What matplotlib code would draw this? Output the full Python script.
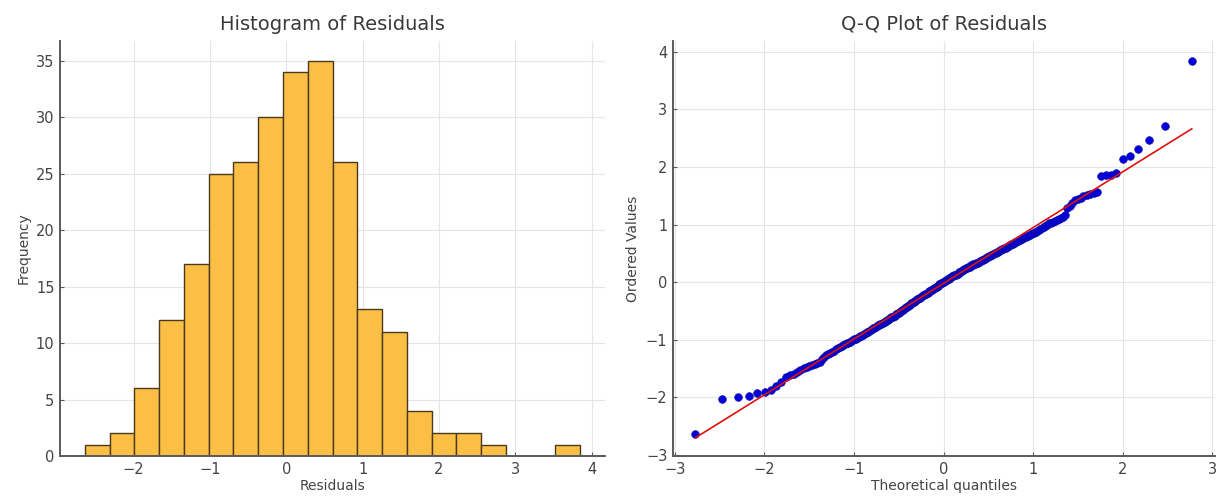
"""Histogram and Q-Q plot of model residuals (side by side)."""
from statistics import NormalDist

import matplotlib
matplotlib.use("Agg")
import matplotlib.pyplot as plt
import numpy as np

# ordered residuals (also feed the histogram)
residuals = [
    -2.64,
    -2.03, -2.00,
    -1.97, -1.92, -1.90, -1.87, -1.80, -1.74,
    -1.65, -1.62, -1.59, -1.56, -1.53, -1.50, -1.48, -1.46, -1.44, -1.43, -1.41, -1.38,
    -1.33, -1.30, -1.27, -1.25, -1.23, -1.21, -1.19, -1.17, -1.15, -1.13, -1.11, -1.10,
    -1.08, -1.06, -1.05, -1.04, -1.02,
    -1.01, -0.99, -0.98, -0.97, -0.95, -0.94, -0.93, -0.91, -0.90, -0.89, -0.87, -0.86,
    -0.84, -0.83, -0.82, -0.80, -0.79, -0.78, -0.77, -0.75, -0.74, -0.73, -0.72, -0.71, -0.70,
    -0.69, -0.68, -0.66, -0.65, -0.64, -0.63, -0.61, -0.60, -0.59, -0.58, -0.56, -0.55,
    -0.54, -0.53, -0.51, -0.50, -0.49, -0.48, -0.46, -0.45, -0.44, -0.43, -0.41, -0.40,
    -0.39, -0.37,
    -0.36, -0.35, -0.34, -0.33, -0.32, -0.31, -0.30, -0.29, -0.28, -0.27, -0.26, -0.24,
    -0.23, -0.22, -0.21, -0.20, -0.19, -0.18, -0.17, -0.16, -0.15, -0.14, -0.13, -0.12,
    -0.11, -0.10, -0.09, -0.08, -0.07, -0.05,
    -0.04, -0.03, -0.02, -0.01, 0.00, 0.01, 0.02, 0.03, 0.04, 0.05, 0.06, 0.07, 0.08,
    0.09, 0.10, 0.11, 0.12, 0.13, 0.13, 0.14, 0.15, 0.16, 0.17, 0.18, 0.19, 0.20, 0.21,
    0.22, 0.23, 0.24, 0.25, 0.26, 0.26, 0.27,
    0.29, 0.30, 0.30, 0.31, 0.32, 0.32, 0.33, 0.34, 0.34, 0.35, 0.36, 0.37, 0.38, 0.39,
    0.40, 0.41, 0.42, 0.43, 0.44, 0.45, 0.46, 0.47, 0.48, 0.49, 0.50, 0.51, 0.52, 0.53,
    0.54, 0.55, 0.56, 0.57, 0.58, 0.59, 0.60,
    0.61, 0.62, 0.63, 0.64, 0.66, 0.67, 0.68, 0.69, 0.70, 0.72, 0.73, 0.74, 0.75, 0.76,
    0.78, 0.79, 0.80, 0.81, 0.82, 0.84, 0.85, 0.86, 0.87, 0.89, 0.90, 0.92,
    0.94, 0.96, 0.98, 1.00, 1.02, 1.03, 1.05, 1.06, 1.08, 1.10, 1.12, 1.14, 1.16,
    1.28, 1.33, 1.38, 1.42, 1.45, 1.47, 1.49, 1.51, 1.53, 1.55, 1.57,
    1.85, 1.86, 1.87, 1.89,
    2.14, 2.19,
    2.31, 2.47,
    2.71,
    3.85,
]
n_bins = 20

C_BAR = "#FCBF45"
C_EDGE = "#4a3a1c"
C_TXT = "#444444"
C_GRID = "#e6e6e6"


def _style(ax):
    ax.grid(True, color=C_GRID, lw=0.8)
    ax.set_axisbelow(True)
    for side in ("top", "right"):
        ax.spines[side].set_visible(False)
    for side in ("left", "bottom"):
        ax.spines[side].set_color("#5a5a5a")
        ax.spines[side].set_linewidth(1.4)
    ax.tick_params(direction="in", length=3, width=0.8, color="#5a5a5a",
                   labelsize=10.5, labelcolor=C_TXT, pad=4)


def main() -> None:
    res = np.sort(np.array(residuals))
    n = len(res)

    # Filliben plotting positions -> theoretical normal quantiles (as probplot)
    m = (np.arange(1, n + 1) - 0.3175) / (n + 0.365)
    m[-1] = 0.5 ** (1.0 / n)
    m[0] = 1 - m[-1]
    osm = np.array([NormalDist().inv_cdf(p) for p in m])
    slope, intercept = np.polyfit(osm, res, 1)

    fig = plt.figure(figsize=(12.2, 4.99), dpi=100)
    ax1 = fig.add_axes([0.0492, 0.0862, 0.4467, 0.8317])
    ax2 = fig.add_axes([0.5516, 0.0862, 0.4443, 0.8317])

    # ── histogram ───────────────────────────────────────────────────────────
    ax1.hist(res, bins=n_bins, color=C_BAR, edgecolor=C_EDGE, linewidth=1.0)
    ax1.set_title("Histogram of Residuals", fontsize=14, color="#3a3a3a", pad=8)
    ax1.set_xlabel("Residuals", fontsize=10, color=C_TXT, labelpad=2)
    ax1.set_ylabel("Frequency", fontsize=10, color=C_TXT, labelpad=4)
    ax1.set_yticks(range(0, 36, 5))
    ax1.set_xticks(range(-2, 5))
    _style(ax1)

    # ── Q-Q plot ────────────────────────────────────────────────────────────
    ax2.plot(osm, res, "o", color="#0000dd", ms=5.5, mec="#1010a0", mew=0.5)
    ax2.plot(osm, slope * osm + intercept, "-", color="#e01010", lw=1.2)
    ax2.set_title("Q-Q Plot of Residuals", fontsize=14, color="#3a3a3a", pad=8)
    ax2.set_xlabel("Theoretical quantiles", fontsize=10, color=C_TXT, labelpad=2)
    ax2.set_ylabel("Ordered Values", fontsize=10, color=C_TXT, labelpad=4)
    ax2.set_xlim(-3.02, 3.03)
    ax2.set_ylim(-3.02, 4.19)
    ax2.set_xticks(range(-3, 4))
    ax2.set_yticks(range(-3, 5))
    _style(ax2)

    fig.savefig("out.png", dpi=100)


if __name__ == "__main__":
    main()
